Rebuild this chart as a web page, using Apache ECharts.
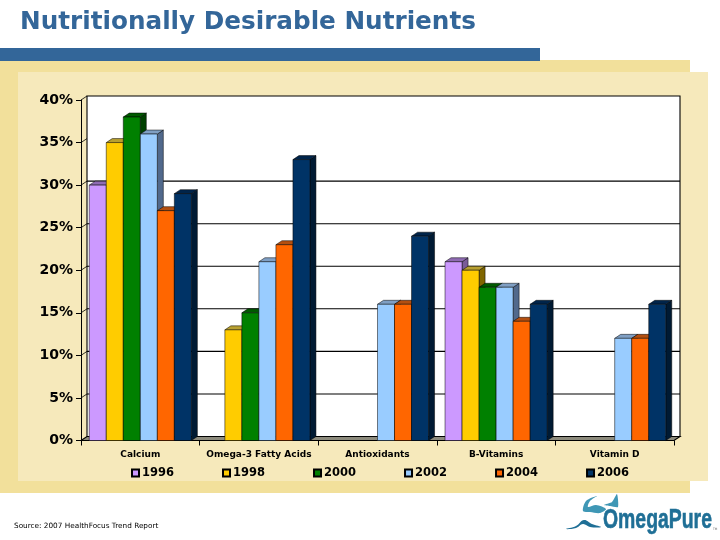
<!DOCTYPE html>
<html><head><meta charset="utf-8">
<style>html,body{margin:0;padding:0;background:#fff}#c{width:720px;height:540px}</style>
<script src="https://cdn.jsdelivr.net/npm/echarts@6/dist/echarts.min.js"></script>
</head><body><div id="c"></div>
<script>
const categories = ['Calcium','Omega-3 Fatty Acids','Antioxidants','B-Vitamins','Vitamin D'];
const s1996 = [30,null,null,21,null];
const s1998 = [35,13,null,20,null];
const s2000 = [38,15,null,18,null];
const s2002 = [36,21,16,18,12];
const s2004 = [27,23,16,14,12];
const s2006 = [29,33,24,16,16];
const years = ['1996','1998','2000','2002','2004','2006'];
const colors = ['#cc99ff','#ffcc00','#008000','#99ccff','#ff6600','#003366'];
const tops = ['#8f6bb3','#b8a030','#005a00','#7f9fc4','#b34f10','#00244a'];
const sides = ['#7a5c99','#806600','#004000','#51698c','#803300','#001a33'];
const allSeries = [s1996,s1998,s2000,s2002,s2004,s2006];
const yTicks = [0,5,10,15,20,25,30,35,40];
const wallLines = [5,10,15,20,25,30];
const DX = 6, DY = -4;

function wallItem(params, api){
  const v = api.value(0);
  const p = api.coord([0, v]);
  const size = api.size([1,0])[0];
  const x0 = p[0] - size/2;
  const x1 = x0 + size*5;
  const kids = [];
  const lw = 1.1;
  if (params.dataIndex === 0){
    const top = api.coord([0,40])[1], bot = p[1];
    kids.push({type:'rect',shape:{x:x0+DX,y:top+DY,width:x1-x0,height:bot-top},style:{fill:'#fff',stroke:'#000',lineWidth:lw}});
    kids.push({type:'polygon',shape:{points:[[x0,bot],[x0+DX,bot+DY],[x1+DX,bot+DY],[x1,bot]]},style:{fill:'#8c8a7c',stroke:'#000',lineWidth:lw}});
  } else {
    if (wallLines.indexOf(v) >= 0) {
      kids.push({type:'line',shape:{x1:x0+DX,y1:p[1]+DY,x2:x1+DX,y2:p[1]+DY},style:{stroke:'#000',lineWidth:lw}});
    }
    kids.push({type:'line',shape:{x1:x0,y1:p[1],x2:x0+DX,y2:p[1]+DY},style:{stroke:'#000',lineWidth:0.8}});
  }
  return {type:'group',children:kids};
}
function barItem(si){
  return function(params, api){
    const val = api.value(1);
    if (val == null || isNaN(val)) return;
    const band = api.size([1,0])[0];
    const w = band*0.1435;
    const c = api.coord([api.value(0), val]);
    const b = api.coord([api.value(0), 0]);
    const x = c[0] + (si-3)*w, y = c[1], h = b[1]-c[1];
    const st = {stroke:'#000',lineWidth:0.5};
    return {type:'group',children:[
      {type:'polygon',shape:{points:[[x+w,y],[x+w+DX,y+DY],[x+w+DX,y+h+DY],[x+w,y+h]]},style:{fill:sides[si],...st}},
      {type:'polygon',shape:{points:[[x,y],[x+DX,y+DY],[x+w+DX,y+DY],[x+w,y]]},style:{fill:tops[si],...st}},
      {type:'rect',shape:{x:x,y:y,width:w,height:h},style:{fill:colors[si],...st}}
    ]};
  };
}
const series = [{
  type:'custom',name:'wall',z:1,silent:true,clip:false,
  data:yTicks.map(v=>[v]),encode:{y:0},renderItem:wallItem
}];
years.forEach((yr,si)=>{
  series.push({
    type:'custom',name:yr,z:3+si,clip:false,
    itemStyle:{color:colors[si],borderColor:'#000',borderWidth:0.6},
    data:allSeries[si].map((v,i)=>[i,v]),
    encode:{x:0,y:1},renderItem:barItem(si)
  });
});
const logoWave = [[566,529],[576,526],[584,520],[592,524],[601,527],[590,527],[583,524],[576,528]];
const logoBody = [[583,511],[586,501],[597,496],[590,501],[588,507],[596,505],[606,509],[600,513],[590,512]];
const logoTail = [[604,505],[612,502],[617,494],[618,507],[610,506]];
const chart = echarts.init(document.getElementById('c'),null,{renderer:'canvas'});
chart.setOption({
  animation:false,
  backgroundColor:'#ffffff',
  graphic:{elements:[
    {type:'rect',z:-10,shape:{x:0,y:60,width:690,height:433},style:{fill:'#f2e09b'}},
    {type:'rect',z:-9,shape:{x:18,y:72,width:690,height:409},style:{fill:'#f6e9bb'}},
    {type:'rect',z:-8,shape:{x:0,y:48,width:540,height:13},style:{fill:'#336699'}},
    {type:'text',z:10,style:{x:20,y:22.5,text:'Nutritionally Desirable Nutrients',fill:'#336699',font:'bold 24.7px "DejaVu Sans"',textVerticalAlign:'middle'}},
    {type:'text',z:10,style:{x:14,y:526,text:'Source: 2007 HealthFocus Trend Report',fill:'#000',font:'7.3px "DejaVu Sans"',textVerticalAlign:'middle'}},
    {type:'text',z:10,x:603,y:520,scaleX:0.693,scaleY:1,style:{x:0,y:0,text:'OmegaPure',fill:'#1f6f96',stroke:'#1f6f96',lineWidth:0.6,font:'bold 28px "Liberation Sans"',textVerticalAlign:'middle'}},
    {type:'text',z:10,style:{x:713,y:529,text:'TM',fill:'#666',font:'3px "DejaVu Sans"',textVerticalAlign:'middle'}},
    {type:'polygon',z:10,shape:{points:logoWave,smooth:0.4},style:{fill:'#1f6f96'}},
    {type:'polygon',z:10,shape:{points:logoBody,smooth:0.3},style:{fill:'#3f97b5'}},
    {type:'polygon',z:10,shape:{points:logoTail,smooth:0.2},style:{fill:'#3f97b5'}}
  ]},
  grid:{left:81,right:46,top:100,bottom:99.5,containLabel:false},
  xAxis:{type:'category',data:categories,boundaryGap:true,
    axisLine:{lineStyle:{color:'#000',width:1}},
    axisTick:{show:true,length:5,alignWithLabel:false,lineStyle:{color:'#000'}},
    axisLabel:{color:'#000',fontFamily:'DejaVu Sans',fontWeight:'bold',fontSize:9,margin:10,interval:0},
    splitLine:{show:false}},
  yAxis:{type:'value',min:0,max:40,interval:5,
    axisLine:{show:true,lineStyle:{color:'#000',width:1}},
    axisTick:{show:true,length:5,lineStyle:{color:'#000'}},
    axisLabel:{color:'#000',fontFamily:'DejaVu Sans',fontWeight:'bold',fontSize:14,margin:8,formatter:'{value}%'},
    splitLine:{show:false}},
  legend:{data:years,left:126,top:462,icon:'rect',itemWidth:7,itemHeight:7,itemGap:48,
    textStyle:{color:'#000',fontFamily:'DejaVu Sans',fontWeight:'bold',fontSize:11.5,padding:[0,0,0,-2]}},
  series:series
});
</script></body></html>
